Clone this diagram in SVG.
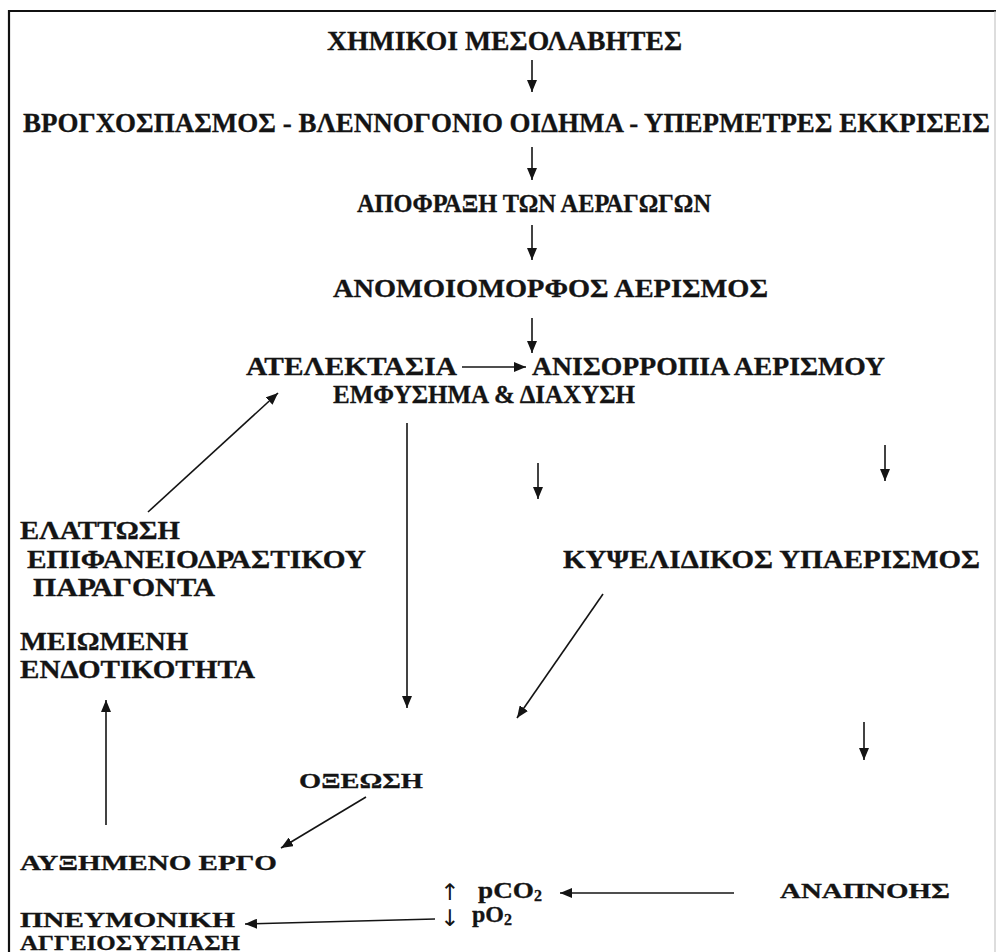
<svg xmlns="http://www.w3.org/2000/svg" width="996" height="952" viewBox="0 0 996 952">
<style>
.t{font-family:"Liberation Serif","Times New Roman",serif;font-weight:bold;font-size:25px;fill:#141414;stroke:#141414;stroke-width:0.3}
.b{font-size:27px}
.m{font-size:22px}
.p{font-size:24px}
.s{font-family:"DejaVu Sans","Liberation Sans",sans-serif;font-weight:normal;font-size:23px;fill:#141414}
.c{stroke:#141414;stroke-width:1.6;fill:none;marker-end:url(#ah)}
</style>
<defs>
<marker id="ah" viewBox="0 0 12 10" refX="12" refY="5" markerWidth="12" markerHeight="10" markerUnits="userSpaceOnUse" orient="auto">
<path d="M0,0 L12,5 L0,10 z" fill="#141414"/>
</marker>
</defs>
<rect width="996" height="952" fill="#ffffff"/>
<g id="frame">
<line x1="9" y1="11" x2="996" y2="11" stroke="#111" stroke-width="2.2"/>
<line x1="9" y1="10" x2="9" y2="952" stroke="#111" stroke-width="2.2"/>
<line x1="995" y1="11" x2="995" y2="952" stroke="#bbb" stroke-width="1"/>
</g>
<g id="n1"><text class="t b" x="327" y="50" textLength="355" lengthAdjust="spacingAndGlyphs">ΧΗΜΙΚΟΙ  ΜΕΣΟΛΑΒΗΤΕΣ</text></g>
<g id="n2"><text class="t b" x="23" y="132" textLength="967" lengthAdjust="spacingAndGlyphs">ΒΡΟΓΧΟΣΠΑΣΜΟΣ - ΒΛΕΝΝΟΓΟΝΙΟ ΟΙΔΗΜΑ - ΥΠΕΡΜΕΤΡΕΣ  ΕΚΚΡΙΣΕΙΣ</text></g>
<g id="n3"><text class="t" x="357" y="212" textLength="354" lengthAdjust="spacingAndGlyphs">ΑΠΟΦΡΑΞΗ ΤΩΝ ΑΕΡΑΓΩΓΩΝ</text></g>
<g id="n4"><text class="t" x="333" y="297" textLength="435" lengthAdjust="spacingAndGlyphs">ΑΝΟΜΟΙΟΜΟΡΦΟΣ ΑΕΡΙΣΜΟΣ</text></g>
<g id="n5"><text class="t" x="246" y="375" textLength="211" lengthAdjust="spacingAndGlyphs">ΑΤΕΛΕΚΤΑΣΙΑ</text></g>
<g id="n6">
<text class="t" x="532" y="375" textLength="353" lengthAdjust="spacingAndGlyphs">ΑΝΙΣΟΡΡΟΠΙΑ ΑΕΡΙΣΜΟΥ</text>
<text class="t" x="333" y="403" textLength="302" lengthAdjust="spacingAndGlyphs">ΕΜΦΥΣΗΜΑ &amp; ΔΙΑΧΥΣΗ</text>
</g>
<g id="n7">
<text class="t" x="20" y="539" textLength="160" lengthAdjust="spacingAndGlyphs">ΕΛΑΤΤΩΣΗ</text>
<text class="t" x="27" y="568" textLength="339" lengthAdjust="spacingAndGlyphs">ΕΠΙΦΑΝΕΙΟΔΡΑΣΤΙΚΟΥ</text>
<text class="t" x="33" y="596" textLength="182" lengthAdjust="spacingAndGlyphs">ΠΑΡΑΓΟΝΤΑ</text>
</g>
<g id="n8"><text class="t" x="563" y="568" textLength="417" lengthAdjust="spacingAndGlyphs">ΚΥΨΕΛΙΔΙΚΟΣ ΥΠΑΕΡΙΣΜΟΣ</text></g>
<g id="n9">
<text class="t" x="20" y="650" textLength="168" lengthAdjust="spacingAndGlyphs">ΜΕΙΩΜΕΝΗ</text>
<text class="t" x="20" y="678" textLength="235" lengthAdjust="spacingAndGlyphs">ΕΝΔΟΤΙΚΟΤΗΤΑ</text>
</g>
<g id="n10"><text class="t m" x="299" y="788" textLength="124" lengthAdjust="spacingAndGlyphs">ΟΞΕΩΣΗ</text></g>
<g id="n11"><text class="t m" x="20" y="870" textLength="257" lengthAdjust="spacingAndGlyphs">ΑΥΞΗΜΕΝΟ ΕΡΓΟ</text></g>
<g id="n12"><text class="t m" x="780" y="898" textLength="170" lengthAdjust="spacingAndGlyphs">ΑΝΑΠΝΟΗΣ</text></g>
<g id="n13">
<text class="s" x="440" y="900">↑</text>
<text class="t p" x="478" y="898"><tspan textLength="56" lengthAdjust="spacingAndGlyphs">pCO</tspan><tspan font-size="16" dy="3">2</tspan></text>
<text class="s" x="440" y="926">↓</text>
<text class="t p" x="472" y="922"><tspan textLength="32" lengthAdjust="spacingAndGlyphs">pO</tspan><tspan font-size="16" dy="3">2</tspan></text>
</g>
<g id="n14">
<text class="t m" x="20" y="927" textLength="215" lengthAdjust="spacingAndGlyphs">ΠΝΕΥΜΟΝΙΚΗ</text>
<text class="t m" x="20" y="950" textLength="220" lengthAdjust="spacingAndGlyphs">ΑΓΓΕΙΟΣΥΣΠΑΣΗ</text>
</g>
<g id="connectors">
<line class="c" x1="532" y1="60" x2="532" y2="92"/>
<line class="c" x1="532" y1="147" x2="532" y2="180"/>
<line class="c" x1="532" y1="225" x2="532" y2="260"/>
<line class="c" x1="532" y1="318" x2="532" y2="353"/>
<line class="c" x1="462" y1="367" x2="526" y2="367"/>
<line class="c" x1="407" y1="423" x2="407" y2="708"/>
<line class="c" x1="148" y1="512" x2="278" y2="393"/>
<line class="c" x1="538" y1="463" x2="538" y2="499"/>
<line class="c" x1="885" y1="445" x2="885" y2="481"/>
<line class="c" x1="603" y1="594" x2="517" y2="718"/>
<line class="c" x1="864" y1="722" x2="864" y2="760"/>
<line class="c" x1="106" y1="825" x2="106" y2="700"/>
<line class="c" x1="366" y1="797" x2="281" y2="848"/>
<line class="c" x1="734" y1="893" x2="560" y2="893"/>
<line class="c" x1="435" y1="919" x2="245" y2="924"/>
</g>
</svg>
